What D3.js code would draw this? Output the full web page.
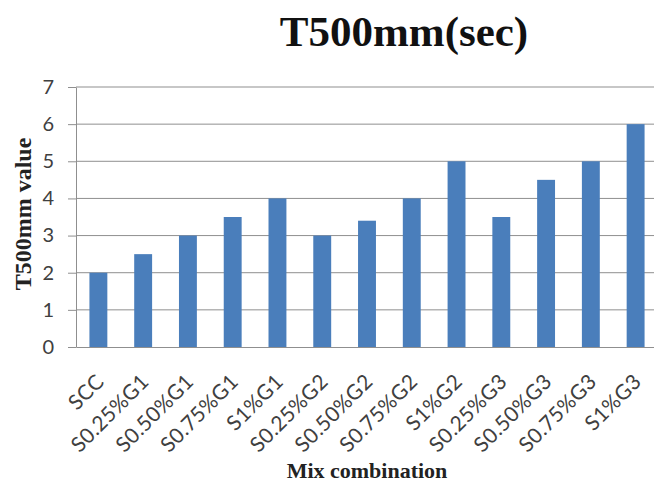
<!DOCTYPE html>
<html>
<head>
<meta charset="utf-8">
<script src="https://cdn.jsdelivr.net/npm/d3@7"></script>
<style>
  html, body { margin: 0; padding: 0; background: #fff; }
  svg { display: block; }
</style>
</head>
<body>
<svg id="chart" width="654" height="486"></svg>
<script>
// T500mm flow time for each mix combination
const categories = ["SCC", "S0.25%G1", "S0.50%G1", "S0.75%G1", "S1%G1",
  "S0.25%G2", "S0.50%G2", "S0.75%G2", "S1%G2",
  "S0.25%G3", "S0.50%G3", "S0.75%G3", "S1%G3"];
const values = [2, 2.5, 3, 3.5, 4, 3, 3.4, 4, 5, 3.5, 4.5, 5, 6];
const yTicks = [0, 1, 2, 3, 4, 5, 6, 7];

const svg = d3.select("#chart");
const plot = { left: 76, right: 658, top: 87, bottom: 347 };

const x = d3.scaleBand()
  .domain(categories)
  .range([plot.left, plot.right])
  .paddingInner(0.6)
  .paddingOuter(0.3);

const y = d3.scaleLinear()
  .domain([0, 7])
  .range([plot.bottom, plot.top]);

// horizontal gridlines
svg.append("g")
  .selectAll("line")
  .data(yTicks.filter(d => d > 0))
  .join("line")
  .attr("x1", plot.left).attr("x2", plot.right)
  .attr("y1", d => y(d)).attr("y2", d => y(d))
  .attr("stroke", "#8f8f8f")
  .attr("stroke-width", 1);

// bars
svg.append("g")
  .selectAll("rect")
  .data(values)
  .join("rect")
  .attr("x", (d, i) => x(categories[i]))
  .attr("width", x.bandwidth())
  .attr("y", d => y(d))
  .attr("height", d => y(0) - y(d))
  .attr("fill", "#4a7ebb");

// y axis
const yAxis = svg.append("g")
  .attr("transform", `translate(${plot.left},0)`)
  .call(d3.axisLeft(y).tickValues(yTicks).tickFormat(d3.format("d"))
    .tickSize(8).tickPadding(14).tickSizeOuter(0));
yAxis.select(".domain").attr("stroke", "#8f8f8f");
yAxis.selectAll(".tick line").attr("stroke", "#8f8f8f");
yAxis.selectAll(".tick text")
  .attr("fill", "#404040")
  .style("font-family", "Lato, 'Liberation Sans', sans-serif")
  .style("font-size", "20px");

// x axis baseline and labels
const xAxis = svg.append("g")
  .attr("transform", `translate(0,${plot.bottom})`)
  .call(d3.axisBottom(x).tickSize(0).tickSizeOuter(0));
xAxis.select(".domain").attr("stroke", "#8f8f8f");
xAxis.selectAll(".tick text")
  .attr("fill", "#404040")
  .attr("text-anchor", "end")
  .attr("dy", null)
  .attr("y", 0)
  .attr("transform", "translate(7,36) rotate(-45)")
  .style("font-family", "Lato, 'Liberation Sans', sans-serif")
  .style("font-size", "21px")
  .style("letter-spacing", "0.3px");

// titles
svg.append("text")
  .attr("x", 404).attr("y", 46)
  .attr("text-anchor", "middle")
  .style("font-family", "'Liberation Serif', 'Times New Roman', serif")
  .style("font-weight", "bold")
  .style("font-size", "43px")
  .attr("fill", "#111")
  .text("T500mm(sec)");

svg.append("text")
  .attr("transform", "translate(31,214) rotate(-90)")
  .attr("text-anchor", "middle")
  .style("font-family", "'Liberation Serif', 'Times New Roman', serif")
  .style("font-weight", "bold")
  .style("font-size", "24px")
  .attr("fill", "#222")
  .text("T500mm value");

svg.append("text")
  .attr("x", 367).attr("y", 478)
  .attr("text-anchor", "middle")
  .style("font-family", "'Liberation Serif', 'Times New Roman', serif")
  .style("font-weight", "bold")
  .style("font-size", "22px")
  .attr("fill", "#222")
  .text("Mix combination");
</script>
</body>
</html>
